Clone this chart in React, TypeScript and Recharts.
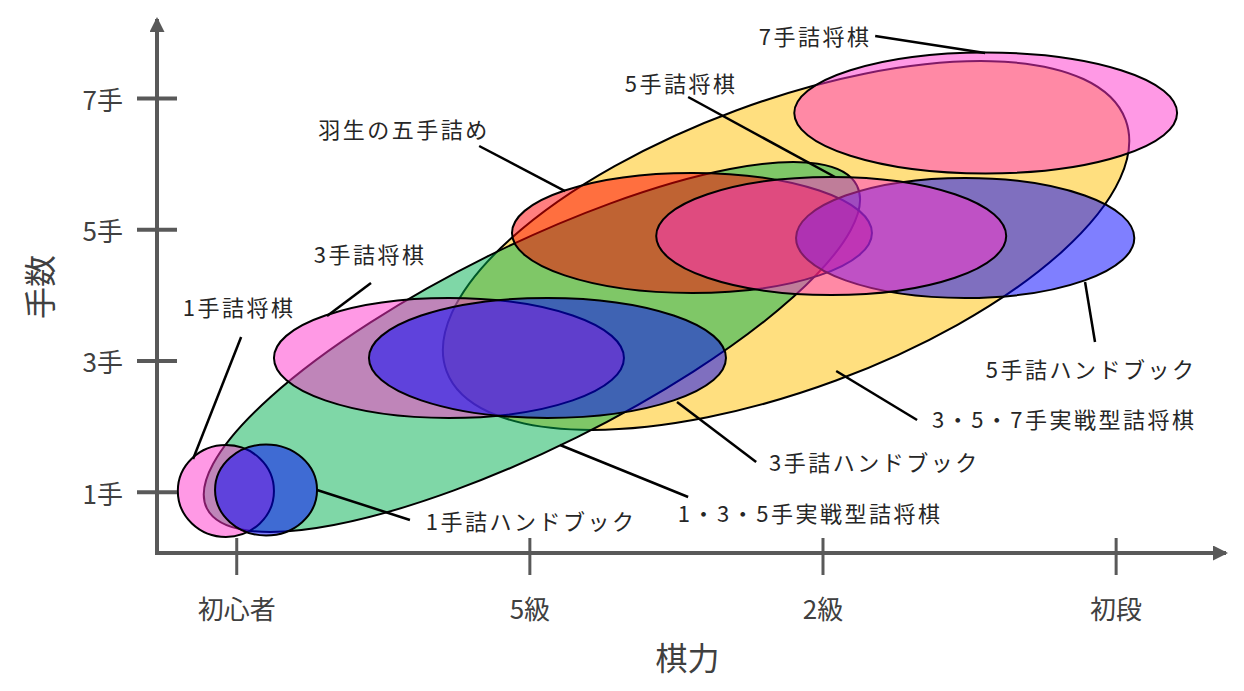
import React from "react";
import {
  ComposedChart,
  XAxis,
  YAxis,
  Scatter,
  ReferenceArea,
  ReferenceLine,
  ReferenceDot,
} from "recharts";

// 棋力: 0 = 初心者, 1 = 5級, 2 = 2級, 3 = 初段 / 手数: moves
const skillTicks = [0, 1, 2, 3];
const skillLabels = ["初心者", "5級", "2級", "初段"];
const moveTicks = [1, 3, 5, 7];
const moveLabels = ["1手", "3手", "5手", "7手"];

// drawing order = stacking order
const books = [
  "3・5・7手実戦型詰将棋",
  "1・3・5手実戦型詰将棋",
  "1手詰将棋",
  "1手詰ハンドブック",
  "3手詰将棋",
  "3手詰ハンドブック",
  "羽生の五手詰め",
  "5手詰ハンドブック",
  "5手詰将棋",
  "7手詰将棋",
];
const skillCenter = [1.874, 1.007, -0.037, 0.1, 0.724, 1.06, 1.553, 2.485, 2.028, 2.555];
const skillSpread = [1.235, 1.238, 0.164, 0.174, 0.597, 0.609, 0.614, 0.577, 0.597, 0.653];
const movesCenter = [4.759, 3.213, 1.02, 1.035, 3.046, 3.046, 4.95, 4.874, 4.904, 6.778];
const movesSpread = [2.193, 1.537, 0.7, 0.693, 0.914, 0.914, 0.914, 0.914, 0.899, 0.922];
const tilt = [-20.3, -26.4, 0, 0, 0, 0, 0, 0, 0, 0];
const fills = ["#ffc000", "#00b050", "#ff33cc", "#0000ff", "#ff33cc", "#0000ff", "#ff0000", "#0000ff", "#ff33cc", "#ff33cc"];

// callout text position and leader line (from -> to), same order as books
const labelSkill = [2.823, 1.956, 0.008, 1.004, 0.455, 2.175, 0.571, 2.915, 1.516, 1.973];
const labelMoves = [2.132, 0.7, 3.838, 0.578, 4.645, 1.477, 6.549, 2.893, 7.25, 7.966];
const leaderFrom = [
  [2.321, 2.101],
  [1.54, 0.928],
  [0.015, 3.366],
  [0.591, 0.578],
  [0.458, 4.188],
  [1.772, 1.462],
  [0.827, 6.275],
  [2.894, 4.203],
  [1.54, 7.021],
  [2.178, 7.95],
];
const leaderTo = [
  [2.045, 2.848],
  [1.103, 1.72],
  [-0.149, 1.507],
  [0.274, 1.035],
  [0.308, 3.685],
  [1.502, 2.375],
  [1.12, 5.589],
  [2.928, 3.289],
  [2.041, 5.803],
  [2.553, 7.691],
];

const FONT = '"Noto Sans CJK JP", "Noto Sans", sans-serif';
const AXIS = "#595959";

const centers = books.map((name, i) => ({ name, skill: skillCenter[i], moves: movesCenter[i] }));

const ellipseShape = (angle: number, fill: string) => (p: any) => {
  const cx = p.x + p.width / 2;
  const cy = p.y + p.height / 2;
  return (
    <ellipse
      cx={cx}
      cy={cy}
      rx={Math.abs(p.width) / 2}
      ry={Math.abs(p.height) / 2}
      transform={`rotate(${angle} ${cx} ${cy})`}
      fill={fill}
      fillOpacity={0.5}
      stroke="#000"
      strokeWidth={2}
    />
  );
};

const XTick = (p: any) => {
  const i = skillTicks.indexOf(p.payload.value);
  return (
    <g>
      <line x1={p.x} x2={p.x} y1={p.y - 15} y2={p.y + 22} stroke={AXIS} strokeWidth={3} />
      <text x={p.x} y={p.y + 54} textAnchor="middle" dominantBaseline="central" fontSize={26} fill="#404040" fontFamily={FONT}>
        {skillLabels[i]}
      </text>
    </g>
  );
};

const YTick = (p: any) => {
  const i = moveTicks.indexOf(p.payload.value);
  return (
    <g>
      <line x1={p.x - 20} x2={p.x + 20} y1={p.y} y2={p.y} stroke={AXIS} strokeWidth={4} />
      <text x={p.x - 34} y={p.y} textAnchor="end" dominantBaseline="central" fontSize={26} fill="#404040" fontFamily={FONT}>
        {moveLabels[i]}
      </text>
    </g>
  );
};

export default function App() {
  return (
    <div style={{ position: "relative", width: 1228, height: 675 }}>
      <svg width={0} height={0} style={{ position: "absolute" }}>
        <defs>
          <marker
            id="axisArrow"
            markerUnits="userSpaceOnUse"
            markerWidth={16}
            markerHeight={16}
            refX={11}
            refY={7.5}
            orient="auto-start-reverse"
          >
            <path d="M0,0 L15,7.5 L0,15 z" fill={AXIS} />
          </marker>
        </defs>
      </svg>
      <ComposedChart width={1228} height={675} margin={{ top: 13, right: 12, bottom: 0, left: 0 }}>
        <XAxis
          type="number"
          dataKey="skill"
          domain={[-0.272, 3.368]}
          allowDataOverflow
          ticks={skillTicks}
          interval={0}
          tickSize={0}
          tickMargin={0}
          tickLine={false}
          tick={<XTick />}
          height={130}
          axisLine={{ stroke: AXIS, strokeWidth: 4, strokeLinecap: "square", markerEnd: "url(#axisArrow)" }}
          label={{
            value: "棋力",
            content: (p: any) => (
              <text
                x={p.viewBox.x + p.viewBox.width / 2 - 3}
                y={p.viewBox.y + 103}
                textAnchor="middle"
                dominantBaseline="central"
                fontSize={32}
                fill="#404040"
                fontFamily={FONT}
              >
                棋力
              </text>
            ),
          }}
        />
        <YAxis
          type="number"
          dataKey="moves"
          domain={[0.075, 8.179]}
          allowDataOverflow
          ticks={moveTicks}
          interval={0}
          tickSize={0}
          tickMargin={0}
          tickLine={false}
          tick={<YTick />}
          width={149}
          axisLine={{ stroke: AXIS, strokeWidth: 4, strokeLinecap: "square", markerStart: "url(#axisArrow)" }}
          label={{
            value: "手数",
            content: (p: any) => {
              const x = p.viewBox.x + 30;
              const y = p.viewBox.y + p.viewBox.height / 2;
              return (
                <text
                  x={x}
                  y={y}
                  transform={`rotate(-90 ${x} ${y})`}
                  textAnchor="middle"
                  dominantBaseline="central"
                  fontSize={32}
                  fill="#404040"
                  fontFamily={FONT}
                >
                  手数
                </text>
              );
            },
          }}
        />
        {books.map((name, i) => (
          <ReferenceArea
            key={name}
            x1={skillCenter[i] - skillSpread[i]}
            x2={skillCenter[i] + skillSpread[i]}
            y1={movesCenter[i] - movesSpread[i]}
            y2={movesCenter[i] + movesSpread[i]}
            ifOverflow="visible"
            shape={ellipseShape(tilt[i], fills[i])}
          />
        ))}
        {books.map((name, i) => (
          <ReferenceLine
            key={"l" + name}
            segment={[
              { x: leaderFrom[i][0], y: leaderFrom[i][1] },
              { x: leaderTo[i][0], y: leaderTo[i][1] },
            ]}
            stroke="#000"
            strokeWidth={2.5}
            ifOverflow="visible"
          />
        ))}
        {books.map((name, i) => (
          <ReferenceDot
            key={"t" + name}
            x={labelSkill[i]}
            y={labelMoves[i]}
            r={0}
            ifOverflow="visible"
            shape={(p: any) => (
              <text
                x={p.cx}
                y={p.cy}
                textAnchor="middle"
                dominantBaseline="central"
                fontSize={22}
                letterSpacing={2.5}
                fill="#262626"
                fontFamily={FONT}
              >
                {name}
              </text>
            )}
          />
        ))}
        <Scatter data={centers} isAnimationActive={false} shape={() => <g />} />
      </ComposedChart>
    </div>
  );
}
